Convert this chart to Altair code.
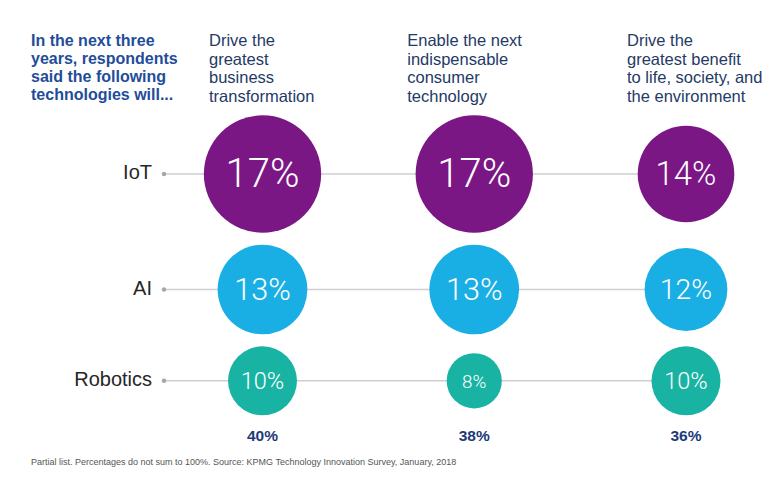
import altair as alt
import pandas as pd

W, H = 769, 485

# ---------------- data ----------------
col_keys = ["c1", "c2", "c3"]
col_headers = [
    ["Drive the", "greatest", "business", "transformation"],
    ["Enable the next", "indispensable", "consumer", "technology"],
    ["Drive the", "greatest benefit", "to life, society, and", "the environment"],
]
techs = ["IoT", "AI", "Robotics"]
iot_values = [17, 17, 14]
ai_values = [13, 13, 12]
robotics_values = [10, 8, 10]
totals = ["40%", "38%", "36%"]
title_lines = ["In the next three", "years, respondents", "said the following", "technologies will..."]
footnote = ("Partial list. Percentages do not sum to 100%. Source: KPMG Technology "
            "Innovation Survey, January, 2018")
tech_colors = ["#7b1685", "#1aafe4", "#19b3a3"]

# ---------------- layout helpers ----------------
PX_PER_PT = 6.9          # circle diameter in px per percentage point
FIRST_ROW = 174
ROW_GAP = 12
HEADER_DX = [-53.5, -67, -59]

series = [iot_values, ai_values, robotics_values]
row_y = [FIRST_ROW]
for i in range(1, len(series)):
    row_y.append(row_y[-1] + PX_PER_PT * (max(series[i - 1]) + max(series[i])) / 2 + ROW_GAP)

records = []
for t, vals, ry in zip(techs, series, row_y):
    for c, v in zip(col_keys, vals):
        records.append({"tech": t, "col": c, "value": v, "label": f"{v}%", "row_y": ry})
df = pd.DataFrame(records)
rows_df = pd.DataFrame({"tech": techs, "row_y": row_y, "last": [col_keys[-1]] * len(techs)})
tot_df = pd.DataFrame({"col": col_keys, "total": totals})

xs = alt.Scale(domain=col_keys, type="point", range=[262.5, 686], padding=0)
ys = alt.Scale(domain=[0, H], range=[0, H])
color = alt.Color("tech:N", scale=alt.Scale(domain=techs, range=tech_colors), legend=None)

base_font = "Liberation Sans"

rules = alt.Chart(rows_df).mark_rule(color="#cfcfcf", strokeWidth=1.5).encode(
    x=alt.X("last:N", scale=xs, axis=None),
    x2=alt.value(164),
    y=alt.Y("row_y:Q", scale=ys, axis=None),
)
dots = alt.Chart(rows_df).mark_circle(color="#a6a6a6", opacity=1, size=20).encode(
    x=alt.value(164),
    y=alt.Y("row_y:Q", scale=ys, axis=None),
)
row_labels = alt.Chart(rows_df).mark_text(
    align="right", baseline="middle", font=base_font, fontSize=20, color="#262626", dy=-1
).encode(
    x=alt.value(152),
    y=alt.Y("row_y:Q", scale=ys, axis=None),
    text="tech:N",
)

# Vega symbol size = bounding-box area, so diameter = sqrt(size)
bubbles = alt.Chart(df).mark_circle(opacity=1).encode(
    x=alt.X("col:N", scale=xs, axis=None),
    y=alt.Y("row_y:Q", scale=ys, axis=None),
    size=alt.Size("value:Q", scale=alt.Scale(type="pow", exponent=2, domain=[0, 20],
                                              range=[0, (PX_PER_PT * 20) ** 2]),
                  legend=None),
    color=color,
)
bubble_text = alt.Chart(df).mark_text(
    baseline="middle", align="center", color="white",
    font="Roboto", fontWeight=300, dy=1
).encode(
    x=alt.X("col:N", scale=xs, axis=None),
    y=alt.Y("row_y:Q", scale=ys, axis=None),
    size=alt.Size("value:Q", scale=alt.Scale(domain=[0, 20], range=[0, 47]), legend=None),
    text="label:N",
)

totals_layer = alt.Chart(tot_df).mark_text(
    baseline="middle", align="center", font=base_font, fontWeight="bold",
    fontSize=15.5, color="#1e3a78"
).encode(
    x=alt.X("col:N", scale=xs, axis=None),
    y=alt.value(436),
    text="total:N",
)

headers = []
for c, lines, dx in zip(col_keys, col_headers, HEADER_DX):
    headers.append(
        alt.Chart(tot_df).transform_filter(alt.datum.col == c).mark_text(
            align="left", baseline="alphabetic", font=base_font, fontSize=16.5,
            lineHeight=18.7, color="#243a66", lineBreak="\n", dx=dx
        ).encode(
            x=alt.X("col:N", scale=xs, axis=None),
            y=alt.value(46),
            text=alt.value("\n".join(lines)),
        )
    )

title = alt.Chart(tot_df.head(1)).mark_text(
    align="left", baseline="alphabetic", font=base_font, fontWeight="bold", fontSize=16,
    lineHeight=18, color="#1f4d9a", lineBreak="\n"
).encode(
    x=alt.value(31), y=alt.value(46), text=alt.value("\n".join(title_lines))
)

foot = alt.Chart(tot_df.head(1)).mark_text(
    align="left", baseline="middle", font=base_font, fontSize=9, color="#555555"
).encode(
    x=alt.value(31), y=alt.value(462), text=alt.value(footnote)
)

chart = alt.layer(
    rules, dots, row_labels, bubbles, bubble_text, totals_layer, *headers, title, foot
).resolve_scale(size="independent").properties(
    width=W, height=H, padding=0, autosize=alt.AutoSizeParams(type="none"),
    background="white"
).configure_view(stroke=None)

chart.save("out.html", embed_options={"renderer": "svg", "actions": False})
